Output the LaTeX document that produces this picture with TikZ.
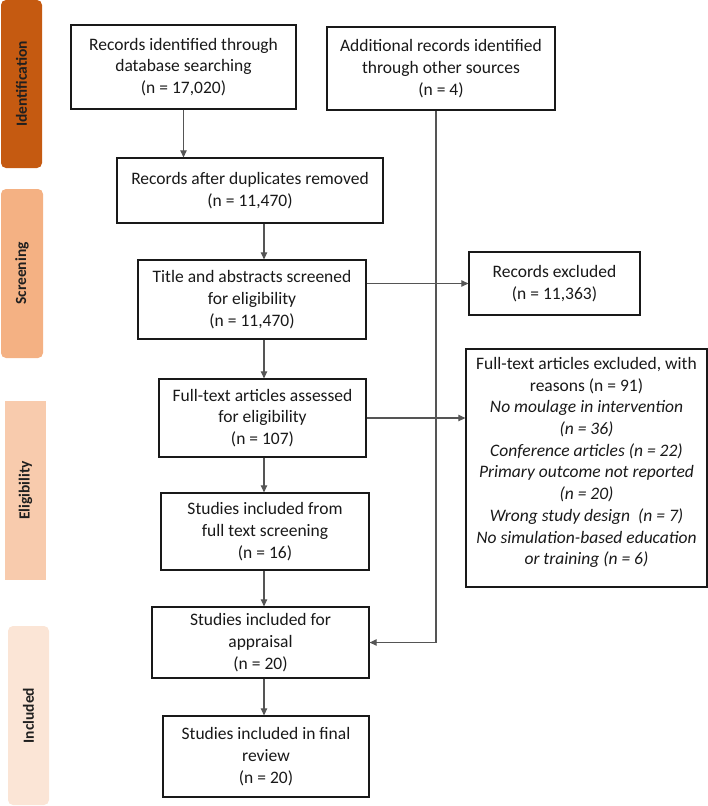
\documentclass[tikz,border=0pt]{standalone}
\usepackage{fontspec}
\setmainfont{Carlito}
\usetikzlibrary{arrows.meta}
\definecolor{idc}{HTML}{C55A11}
\definecolor{scc}{HTML}{F4B183}
\definecolor{elc}{HTML}{F8CBAD}
\definecolor{inc}{HTML}{FBE5D6}
\definecolor{lnc}{HTML}{555555}
\begin{document}
\begin{tikzpicture}[x=1pt,y=-1pt,
  box/.style={draw=black!90, line width=1.3pt, fill=white, inner sep=0pt, align=center,
    text=black!90, font=\fontsize{17.5}{21.7}\selectfont},
  txt/.style={inner sep=0pt, align=center, text=black!90, font=\fontsize{17.5}{21.7}\selectfont},
  arr/.style={draw=lnc, line width=1.1pt, -{Triangle[length=7pt,width=6.5pt]}},
  phase/.style={rounded corners=5pt, inner sep=0pt, text=black!88,
    font=\bfseries\fontsize{15.5}{18}\selectfont}]
\useasboundingbox (0,0) rectangle (708,806);

% phase bars
\node[phase, fill=idc, minimum width=168, minimum height=41, rotate=90] (p1) at (21.5,84) {Identification};
\node[phase, fill=scc, minimum width=169, minimum height=42, rotate=90] (p2) at (22,273.5) {Screening};
\node[phase, fill=elc, rounded corners=0pt, minimum width=179, minimum height=41, rotate=90] (p3) at (25.5,490.5) {Eligibility};
\node[phase, fill=inc, minimum width=179, minimum height=41, rotate=90] (p4) at (28.5,715.5) {Included};

% boxes
\node[box, minimum width=225, minimum height=84] (b1) at (183.5,67)
  {Records identified through\\database searching\\(n = 17,020)};
\node[box, minimum width=228, minimum height=83] (b2) at (441,68.5)
  {Additional records identified\\through other sources\\(n = 4)};
\node[box, minimum width=266, minimum height=65] (b3) at (250,190.5)
  {Records after duplicates removed\\(n = 11,470)};
\node[box, minimum width=228, minimum height=79] (b4) at (252,299.5)
  {Title and abstracts screened\\for eligibility\\(n = 11,470)};
\node[box, minimum width=171, minimum height=63] (b5) at (554.5,283.5)
  {Records excluded\\(n = 11,363)};
\node[box, minimum width=207, minimum height=78] (b6) at (262.5,418)
  {Full-text articles assessed\\for eligibility\\(n = 107)};
\node[box, minimum width=241, minimum height=238] (b7) at (586.5,468) {};
\node[txt, yshift=5.5pt] (b7t) at (b7.center)
  {Full-text articles excluded, with\\reasons (n = 91)\\
   \itshape No moulage in intervention\\\itshape (n = 36)\\
   \itshape Conference articles (n = 22)\\\itshape Primary outcome not reported\\
   \itshape (n = 20)\\\itshape Wrong study design\ \ (n = 7)\\
   \itshape No simulation-based education\\\itshape or training (n = 6)};
\node[box, minimum width=208, minimum height=77] (b8) at (265,531.5)
  {Studies included from\\full text screening\\(n = 16)};
\node[box, minimum width=217, minimum height=71] (b9) at (260.5,642.5)
  {Studies included for\\appraisal\\(n = 20)};
\node[box, minimum width=206, minimum height=81] (b10) at (266,756.5)
  {Studies included in final\\review\\(n = 20)};

% connector guides
\coordinate (ax) at (264,0);
\coordinate (vx) at (436,0);

\draw[arr] (b1.south) -- (b1.south |- b3.north);
\draw[arr] (b3.south -| ax) -- (b4.north -| ax);
\draw[arr] (b4.south -| ax) -- (b6.north -| ax);
\draw[arr] (b6.south -| ax) -- (b8.north -| ax);
\draw[arr] (b8.south -| ax) -- (b9.north -| ax);
\draw[arr] (b9.south -| ax) -- (b10.north -| ax);
\draw[arr] (b2.south -| vx) |- (b9.east);
\draw[arr] (b4.east |- b5.west) -- (b5.west);
\draw[arr] (b6.east) -- (b6.east -| b7.west);
\end{tikzpicture}
\end{document}
